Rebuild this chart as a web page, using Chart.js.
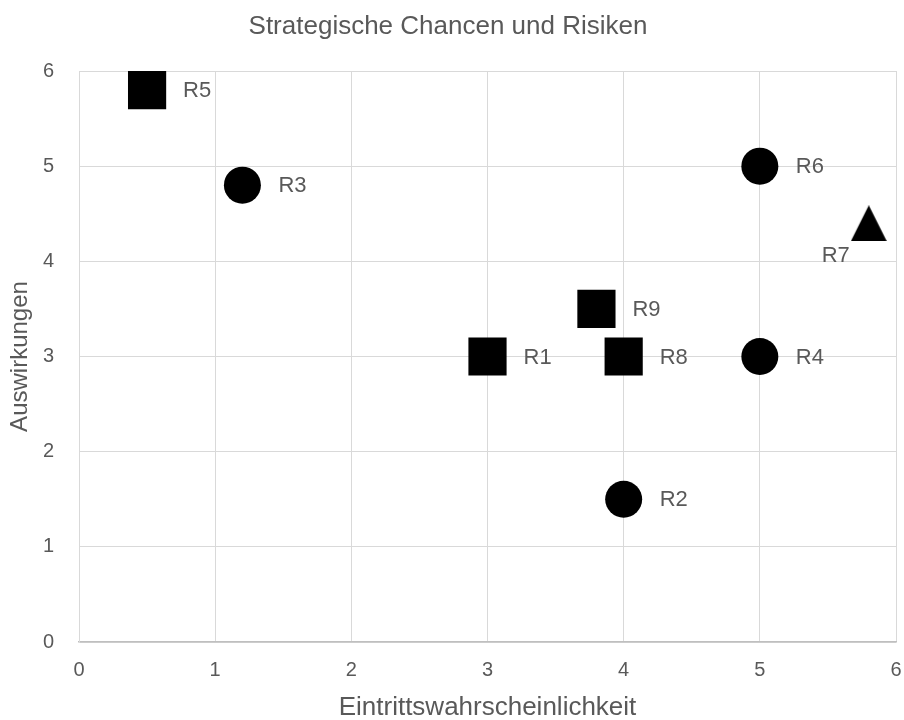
<!DOCTYPE html>
<html><head><meta charset="utf-8">
<script src="https://cdn.jsdelivr.net/npm/chart.js@4/dist/chart.umd.min.js"></script>
<style>html,body{margin:0;padding:0;background:#fff}#wrap{width:904px;height:720px}</style>
</head><body><div id="wrap"><canvas id="c" width="904" height="720"></canvas></div>
<script>
// ---- data ----
const riskLabels = ['R1', 'R2', 'R3', 'R4', 'R5', 'R6', 'R7', 'R8', 'R9'];
const probability = [3, 4, 1.2, 5, 0.5, 5, 5.8, 4, 3.8];
const impact = [3, 1.5, 4.8, 3, 5.8, 5, 4.4, 3, 3.5];
const markerKinds = ['square', 'circle', 'circle', 'circle', 'square', 'circle', 'triangle', 'square', 'square'];
const axisMin = 0, axisMax = 6, axisStep = 1;
const chartTitle = 'Strategische Chancen und Risiken';
const xTitle = 'Eintrittswahrscheinlichkeit';
const yTitle = 'Auswirkungen';

// ---- styling ----
const FONT = '"Liberation Sans", Arial, sans-serif';
const TEXT = '#595959';

function triangleImage(size) {
  const c = document.createElement('canvas');
  c.width = size; c.height = size;
  const g = c.getContext('2d');
  g.fillStyle = '#000';
  g.beginPath();
  g.moveTo(size / 2, 0);
  g.lineTo(size, size);
  g.lineTo(0, size);
  g.closePath();
  g.fill();
  return c;
}
const tri = triangleImage(36);
const styleOf = k => k === 'square' ? 'rect' : (k === 'triangle' ? tri : 'circle');
const radiusOf = k => k === 'square' ? 27 : (k === 'triangle' ? 18 : 18.5);

const labelPlacement = { R7: { dx: -33, dy: 33, align: 'center' } };

const pointLabels = {
  id: 'pointLabels',
  afterDatasetsDraw(chart) {
    const ctx = chart.ctx;
    const meta = chart.getDatasetMeta(0);
    ctx.save();
    ctx.font = '22px ' + FONT;
    ctx.fillStyle = TEXT;
    ctx.textBaseline = 'middle';
    meta.data.forEach((el, i) => {
      const name = riskLabels[i];
      const p = labelPlacement[name] || { dx: 36, dy: 1, align: 'left' };
      ctx.textAlign = p.align;
      ctx.fillText(name, el.x + p.dx, el.y + p.dy);
    });
    ctx.restore();
  }
};

new Chart(document.getElementById('c'), {
  type: 'scatter',
  data: {
    datasets: [{
      data: probability.map((x, i) => ({ x, y: impact[i] })),
      pointStyle: markerKinds.map(styleOf),
      pointRadius: markerKinds.map(radiusOf),
      pointHoverRadius: markerKinds.map(radiusOf),
      backgroundColor: '#000',
      borderColor: '#000',
      borderWidth: 0,
      clip: false
    }]
  },
  options: {
    responsive: false,
    animation: false,
    devicePixelRatio: 1,
    layout: { autoPadding: false, padding: { left: 0, right: 8, top: 0, bottom: 0 } },
    plugins: {
      legend: { display: false },
      tooltip: { enabled: false },
      title: {
        display: true,
        text: chartTitle,
        color: TEXT,
        font: { family: FONT, size: 26, weight: 'normal' },
        padding: { top: 11, bottom: 28.8 }
      }
    },
    scales: {
      x: {
        type: 'linear',
        min: axisMin, max: axisMax,
        afterFit(s) { s.height = 78; },
        ticks: { stepSize: axisStep, color: TEXT, padding: 0, font: { family: FONT, size: 20 } },
        grid: { color: '#d9d9d9', lineWidth: 1, drawTicks: true, tickLength: 16, tickColor: 'rgba(0,0,0,0)' },
        border: { color: '#bfbfbf', width: 1.5 },
        title: { display: true, text: xTitle, color: TEXT, font: { family: FONT, size: 26 }, padding: { top: 0, bottom: -3.5 } }
      },
      y: {
        type: 'linear',
        min: axisMin, max: axisMax,
        afterFit(s) { s.width = 79; },
        ticks: { stepSize: axisStep, color: TEXT, padding: 25, font: { family: FONT, size: 20 } },
        grid: { color: '#d9d9d9', lineWidth: 1, drawTicks: false },
        border: { color: '#d9d9d9', width: 1 },
        title: { display: true, text: yTitle, color: TEXT, font: { family: FONT, size: 24 }, padding: { top: 6, bottom: 0 } }
      }
    }
  },
  plugins: [pointLabels]
});
</script>
</body></html>
